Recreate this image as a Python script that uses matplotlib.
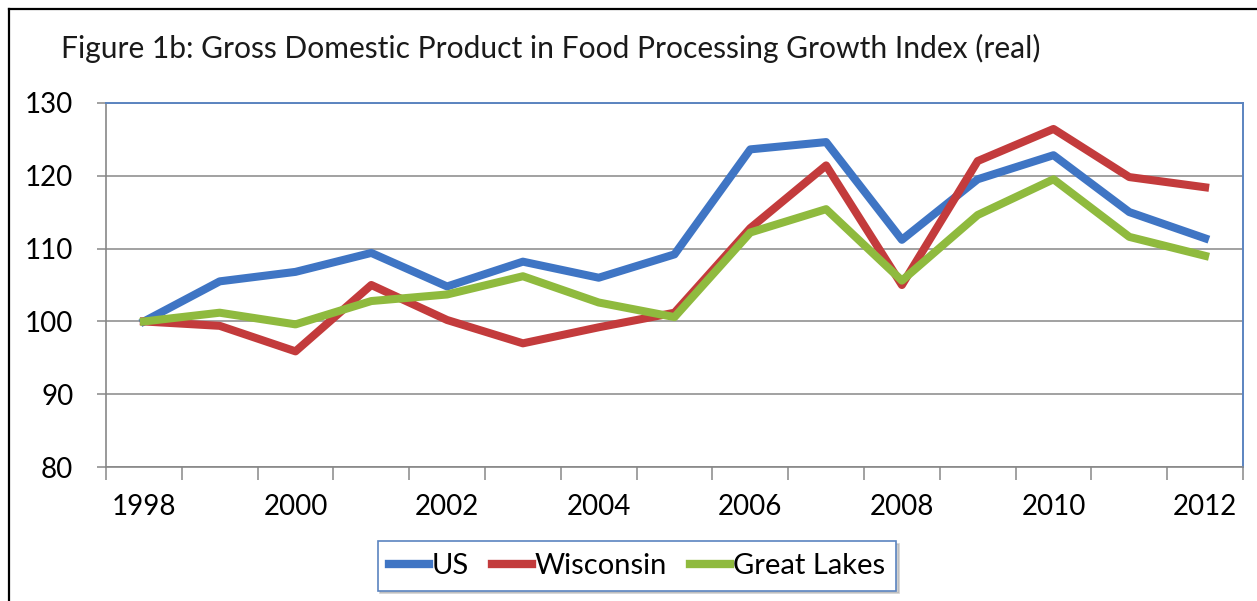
import numpy as np
import matplotlib
matplotlib.use("Agg")
import matplotlib.pyplot as plt
from matplotlib.lines import Line2D

plt.rcParams['font.family'] = ['Lato', 'DejaVu Sans']

# GDP growth index in food processing, 1998 = 100
years = ['1998', '1999', '2000', '2001', '2002', '2003', '2004', '2005',
         '2006', '2007', '2008', '2009', '2010', '2011', '2012']
us = [100, 105.5, 106.8, 109.4, 104.8, 108.2, 106.0, 109.2,
      123.6, 124.6, 111.2, 119.5, 122.8, 115.0, 111.4]
wisconsin = [100, 99.4, 95.9, 105.0, 100.2, 97.0, 99.2, 101.2,
             112.8, 121.4, 105.0, 122.0, 126.4, 119.8, 118.4]
great_lakes = [100, 101.2, 99.6, 102.8, 103.7, 106.2, 102.6, 100.6,
               112.2, 115.4, 105.6, 114.6, 119.5, 111.6, 109.0]
y_ticks = [80, 90, 100, 110, 120, 130]

W, H = 1257, 601
fig = plt.figure(figsize=(W / 100, H / 100), dpi=100)
ax = fig.add_axes([106 / W, 1 - 467.3 / H, (1243 - 106) / W, (467.3 - 102.7) / H])

x = np.arange(len(years))
lw = 5.8
ax.plot(x, us, color='#3f75c4', lw=lw, label='US', zorder=3)
ax.plot(x, wisconsin, color='#c33b3c', lw=lw, label='Wisconsin', zorder=3)
ax.plot(x, great_lakes, color='#8fba3e', lw=lw, label='Great Lakes', zorder=3)

ax.set_xlim(-0.5, len(years) - 0.5)
ax.set_ylim(80, 130)

# y axis with gridlines
ax.set_yticks(y_ticks)
ax.set_yticklabels([str(v) for v in y_ticks])
ax.yaxis.grid(True, color='#878787', lw=1.1, zorder=1)
ax.tick_params(axis='y', direction='out', length=6.5, width=1.1,
               color='#878787', labelsize=20, pad=17)

# category axis: ticks between years, labels on every other year
ax.set_xticks(np.arange(-0.5, len(years)))
ax.set_xticklabels([])
ax.set_xticks(x[::2], minor=True)
ax.set_xticklabels(years[::2], minor=True)
ax.tick_params(axis='x', which='major', direction='out', length=9, width=1.1,
               color='#878787')
ax.tick_params(axis='x', which='minor', length=0, labelsize=20, pad=19)

for side in ['left', 'bottom']:
    ax.spines[side].set_color('#878787')
    ax.spines[side].set_linewidth(1.2)
for side in ['top', 'right']:
    ax.spines[side].set_color('#5b84c0')
    ax.spines[side].set_linewidth(1.4)

fig.text(61 / W, 1 - 58 / H,
         'Figure 1b: Gross Domestic Product in Food Processing Growth Index (real)',
         fontsize=21.6, color='#1a1a1a', va='baseline', ha='left')

leg = ax.legend(loc='center', bbox_to_anchor=(637 / W, 1 - 566 / H),
                bbox_transform=fig.transFigure, ncol=3, fontsize=21,
                frameon=True, fancybox=False, handlelength=1.35,
                handletextpad=0.1, columnspacing=0.8, borderpad=0.4,
                borderaxespad=0, shadow={'color': '#b0b0b0', 'alpha': 0.6})
leg.get_frame().set_edgecolor('#5b84c0')
leg.get_frame().set_linewidth(1.2)
for line in leg.get_lines():
    line.set_linewidth(6)

# outer frame on the top and left edges
fig.add_artist(Line2D([9 / W, 9 / W], [0, 1 - 9 / H], transform=fig.transFigure,
                      color='black', lw=1.6))
fig.add_artist(Line2D([9 / W, 1], [1 - 9 / H, 1 - 9 / H], transform=fig.transFigure,
                      color='black', lw=1.6))

fig.savefig('out.png', dpi=100)
